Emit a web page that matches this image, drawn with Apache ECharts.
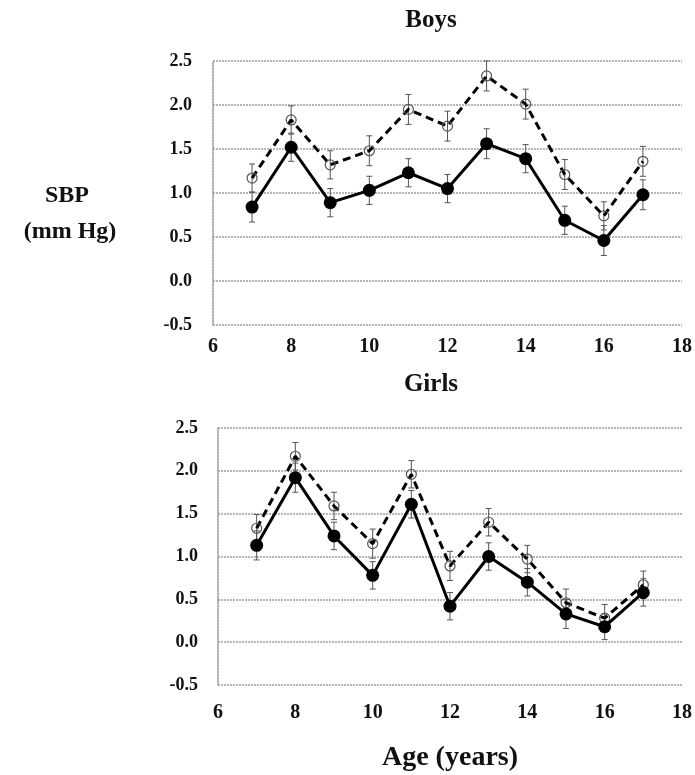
<!DOCTYPE html>
<html>
<head>
<meta charset="utf-8">
<script src="https://cdn.jsdelivr.net/npm/echarts@6/dist/echarts.min.js"></script>
<style>
  html, body { margin: 0; padding: 0; background: #fff; }
  #chart { width: 695px; height: 775px; }
</style>
</head>
<body>
<div id="chart"></div>
<script>
// ages on the x axis
const ages = [7, 8, 9, 10, 11, 12, 13, 14, 15, 16, 17];

// boys panel
const boysFilled = [0.84, 1.52, 0.89, 1.03, 1.23, 1.05, 1.56, 1.39, 0.69, 0.46, 0.98];
const boysFilledErr = [0.17, 0.16, 0.16, 0.16, 0.16, 0.16, 0.17, 0.16, 0.16, 0.17, 0.17];
const boysOpen = [1.17, 1.83, 1.32, 1.48, 1.95, 1.76, 2.33, 2.01, 1.21, 0.74, 1.36];
const boysOpenErr = [0.16, 0.16, 0.16, 0.17, 0.17, 0.17, 0.17, 0.17, 0.17, 0.16, 0.17];

// girls panel
const girlsFilled = [1.13, 1.92, 1.24, 0.78, 1.61, 0.42, 1.00, 0.70, 0.33, 0.18, 0.58];
const girlsFilledErr = [0.17, 0.17, 0.16, 0.16, 0.16, 0.16, 0.16, 0.16, 0.17, 0.15, 0.16];
const girlsOpen = [1.33, 2.17, 1.59, 1.15, 1.96, 0.89, 1.40, 0.97, 0.46, 0.28, 0.67];
const girlsOpenErr = [0.16, 0.16, 0.16, 0.17, 0.16, 0.17, 0.16, 0.16, 0.16, 0.16, 0.16];

// axis ticks
const xTicks = { min: 6, max: 18, step: 2 };
const yTicks = { min: -0.5, max: 2.5, step: 0.5 };

const serif = '"Liberation Serif", "DejaVu Serif", serif';
const gridLineStyle = { color: '#a0a0a0', width: 1.6, type: [2, 1] };

function pairs(xs, ys) {
  return xs.map((x, i) => [x, ys[i]]);
}

function errRows(xs, ys, es) {
  return xs.map((x, i) => [x, ys[i] - es[i], ys[i] + es[i]]);
}

function errorBars(idx, xs, ys, es) {
  return {
    type: 'custom',
    xAxisIndex: idx,
    yAxisIndex: idx,
    z: 1,
    silent: true,
    data: errRows(xs, ys, es),
    renderItem: function (params, api) {
      const lo = api.coord([api.value(0), api.value(1)]);
      const hi = api.coord([api.value(0), api.value(2)]);
      const cap = 3;
      const st = { stroke: '#555', lineWidth: 1 };
      return {
        type: 'group',
        children: [
          { type: 'line', shape: { x1: lo[0], y1: lo[1], x2: hi[0], y2: hi[1] }, style: st },
          { type: 'line', shape: { x1: lo[0] - cap, y1: lo[1], x2: lo[0] + cap, y2: lo[1] }, style: st },
          { type: 'line', shape: { x1: hi[0] - cap, y1: hi[1], x2: hi[0] + cap, y2: hi[1] }, style: st }
        ]
      };
    }
  };
}

function filledLine(idx, xs, ys) {
  return {
    type: 'line',
    xAxisIndex: idx,
    yAxisIndex: idx,
    z: 3,
    data: pairs(xs, ys),
    symbol: 'circle',
    symbolSize: 13,
    lineStyle: { color: '#000', width: 3 },
    itemStyle: { color: '#000' }
  };
}

function openLine(idx, xs, ys) {
  return {
    type: 'line',
    xAxisIndex: idx,
    yAxisIndex: idx,
    z: 2,
    data: pairs(xs, ys),
    symbol: 'circle',
    symbolSize: 10,
    lineStyle: { color: '#000', width: 3, type: [8, 5] },
    itemStyle: { color: 'rgba(255,255,255,0)', borderColor: '#555', borderWidth: 1.2 }
  };
}

function xAxis(idx, margin) {
  return {
    type: 'value',
    gridIndex: idx,
    min: xTicks.min,
    max: xTicks.max,
    interval: xTicks.step,
    axisLine: { show: false },
    axisTick: { show: false },
    splitLine: { show: false },
    axisLabel: { color: '#111', fontFamily: serif, fontWeight: 'bold', fontSize: 20, margin: margin }
  };
}

function yAxis(idx, margin) {
  return {
    type: 'value',
    gridIndex: idx,
    min: yTicks.min,
    max: yTicks.max,
    interval: yTicks.step,
    axisLine: { show: true, lineStyle: gridLineStyle },
    axisTick: { show: false },
    splitLine: { show: true, lineStyle: gridLineStyle },
    axisLabel: {
      color: '#111', fontFamily: serif, fontWeight: 'bold', fontSize: 18, margin: margin,
      formatter: v => v.toFixed(1)
    }
  };
}

function label(text, x, y, size) {
  return {
    type: 'text',
    x: x,
    y: y,
    style: {
      text: text, fill: '#111', font: 'bold ' + size + 'px ' + serif,
      textAlign: 'center', textVerticalAlign: 'middle'
    }
  };
}

const chart = echarts.init(document.getElementById('chart'));
chart.setOption({
  animation: false,
  backgroundColor: '#fff',
  graphic: [
    label('Boys', 431, 21, 25),
    label('Girls', 431, 385, 25),
    label('SBP', 67, 196, 24),
    label('(mm Hg)', 70, 232, 24),
    label('Age (years)', 450, 758, 28)
  ],
  grid: [
    { left: 213, top: 61, width: 472, height: 264 },
    { left: 218, top: 428, width: 467, height: 257 }
  ],
  xAxis: [xAxis(0, 12), xAxis(1, 18)],
  yAxis: [yAxis(0, 21), yAxis(1, 20)],
  series: [
    errorBars(0, ages, boysOpen, boysOpenErr),
    errorBars(0, ages, boysFilled, boysFilledErr),
    openLine(0, ages, boysOpen),
    filledLine(0, ages, boysFilled),
    errorBars(1, ages, girlsOpen, girlsOpenErr),
    errorBars(1, ages, girlsFilled, girlsFilledErr),
    openLine(1, ages, girlsOpen),
    filledLine(1, ages, girlsFilled)
  ]
});
</script>
</body>
</html>
